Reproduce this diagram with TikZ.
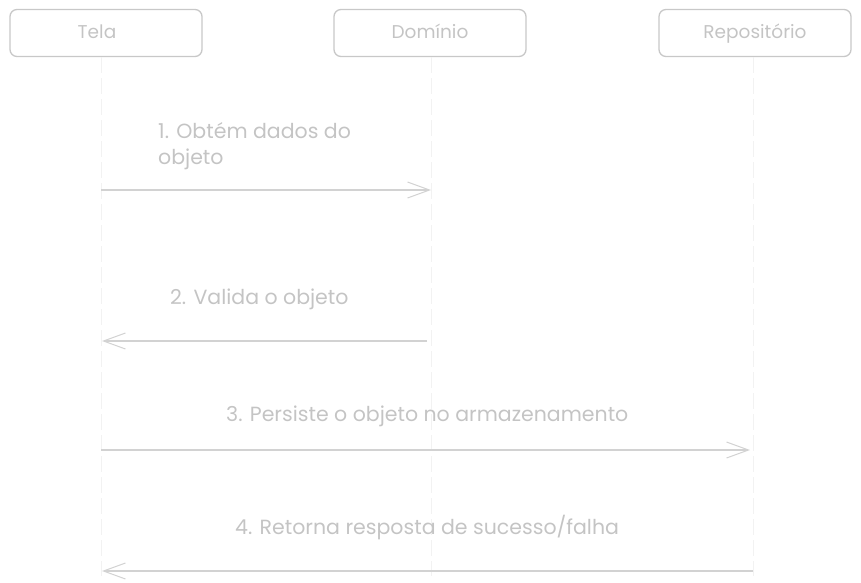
\documentclass[tikz,border=0pt]{standalone}
\usepackage{fontspec}
\setmainfont{Poppins}
\usetikzlibrary{arrows.meta}
\definecolor{boxline}{HTML}{C8C8C8}
\definecolor{msgline}{HTML}{D2D2D2}
\definecolor{msgtext}{HTML}{C4C4C4}
\definecolor{lifeline}{HTML}{F2F2F2}
\tikzset{
         actor/.style=
          {
           draw=boxline,
           line width=1.3pt,
           rounded corners=7pt,
           minimum width=192pt,
           minimum height=47pt,
           text height=14pt,
           text depth=3pt,
           text=msgtext,
           font=\fontsize{18.5}{22}\selectfont
          },
         life/.style={draw=lifeline,line width=1pt,dash pattern=on 16pt off 5pt},
         msg/.style={draw=msgline,line width=1.1pt,-{Straight Barb[length=22pt,width=16pt,line width=1pt]}},
         msgtext/.style={text=msgtext,font=\fontsize{20.5}{26}\selectfont,inner sep=0pt,align=left}
        }
\begin{document}
\begin{tikzpicture}[x=1pt,y=-1pt]
\useasboundingbox (0,0) rectangle (861,582); % page
\node[actor] (tela) at (106,33) {Tela\hspace*{18pt}}; % Tela box
\node[actor] (dominio) at (430,33) {Domínio}; % Domínio box
\node[actor] (repo) at (755,33) {Repositório}; % Repositório box
\coordinate (telaend) at (101,576); % Tela lifeline end
\coordinate (dominioend) at (431,576); % Domínio lifeline end
\coordinate (repoend) at (753,576); % Repositório lifeline end
\draw[life] (tela.south -| telaend) -- (telaend); % Tela lifeline
\draw[life] (dominio.south -| dominioend) -- (dominioend); % Domínio lifeline
\draw[life] (repo.south -| repoend) -- (repoend); % Repositório lifeline
\coordinate (m1a) at (101,190); \coordinate (m1b) at (431,190); % message 1
\coordinate (m2a) at (427,341); \coordinate (m2b) at (102,341); % message 2
\coordinate (m3a) at (101,450); \coordinate (m3b) at (750,450); % message 3
\coordinate (m4a) at (753,571); \coordinate (m4b) at (102,571); % message 4
\draw[msg] (m1a) -- (m1b); % Obtém
\draw[msg] (m2a) -- (m2b); % Valida
\draw[msg] (m3a) -- (m3b); % Persiste
\draw[msg] (m4a) -- (m4b); % Retorna
\node[msgtext,anchor=base west] (l1) at (158,138) {1. Obtém dados do}; % label 1
\node[msgtext,anchor=base west] (l1b) at (158,164) {objeto}; % label 1, second line
\node[msgtext,anchor=base west] (l2) at (170,304) {2. Valida o objeto}; % label 2
\node[msgtext,anchor=base west] (l3) at (226,421) {3. Persiste o objeto no armazenamento}; % label 3
\node[msgtext,anchor=base west] (l4) at (235,534) {4. Retorna resposta de sucesso/falha}; % label 4
\end{tikzpicture}
\end{document}
